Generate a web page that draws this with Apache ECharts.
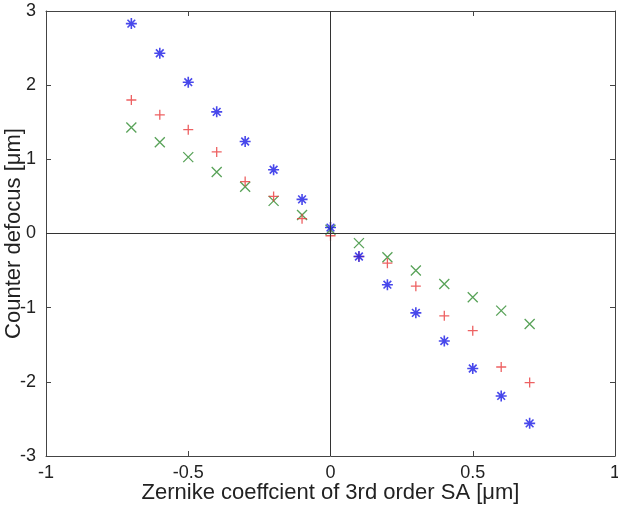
<!DOCTYPE html>
<html><head><meta charset="utf-8">
<script src="https://cdn.jsdelivr.net/npm/echarts@6/dist/echarts.min.js"></script>
<style>html,body{margin:0;padding:0;background:#fff}#c{width:618px;height:506px}</style>
</head><body><div id="c"></div>
<script>
const xValues = [-0.7,-0.6,-0.5,-0.4,-0.3,-0.2,-0.1,0,0.1,0.2,0.3,0.4,0.5,0.6,0.7];
const blueStar = [2.83,2.43,2.04,1.64,1.24,0.86,0.46,0.08,-0.31,-0.69,-1.07,-1.45,-1.82,-2.19,-2.56];
const redPlus  = [1.80,1.60,1.40,1.10,0.70,0.50,0.20,-0.03,-0.31,-0.40,-0.71,-1.11,-1.31,-1.80,-2.01];
const greenX   = [1.43,1.23,1.03,0.83,0.63,0.44,0.25,0.05,-0.13,-0.32,-0.50,-0.68,-0.86,-1.04,-1.22];
const xTicks = [-1,-0.5,0,0.5,1];
const yTicks = [-3,-2,-1,0,1,2,3];

const font = 'Liberation Sans, Arial, sans-serif';
const axisColor = '#444';
const textColor = '#222';
const pair = arr => xValues.map((x,i)=>[x,arr[i]]);

const PLUS = 'path://M5 0 L5 10 M0 5 L10 5';
const CROSS = 'path://M0 0 L10 10 M0 10 L10 0';
const STAR = 'path://M5 0 L5 10 M0 5 L10 5 M1.5 1.5 L8.5 8.5 M1.5 8.5 L8.5 1.5';

function mk(name, arr, sym, color, size, w){
  return {type:'scatter', name, data:pair(arr), symbol:sym, symbolSize:size,
    itemStyle:{color:'rgba(0,0,0,0)', borderColor:color, borderWidth:w},
    emphasis:{disabled:true}, z:3};
}

const chart = echarts.init(document.getElementById('c'), null, {renderer:'canvas'});
chart.setOption({
  animation:false,
  backgroundColor:'#fff',
  grid:{left:46, right:3, top:11, bottom:50, show:false, containLabel:false, outerBoundsMode:'none'},
  xAxis:[{
    type:'value', min:-1, max:1, interval:0.5, position:'bottom',
    name:'Zernike coeffcient of 3rd order SA [μm]', nameLocation:'middle', nameGap:26,
    nameMoveOverlap:false,
    nameTextStyle:{fontFamily:font, fontSize:22, color:textColor},
    axisLine:{onZero:false, lineStyle:{color:axisColor, width:1}},
    axisTick:{inside:true, length:5, lineStyle:{color:axisColor}},
    axisLabel:{fontFamily:font, fontSize:18, color:textColor, margin:8, hideOverlap:false,
      formatter:v=>xTicks.includes(v)?String(v):''},
    splitLine:{show:false}
  },{
    type:'value', min:-1, max:1, interval:0.5, position:'top',
    axisLine:{onZero:false, lineStyle:{color:axisColor, width:1}},
    axisTick:{inside:true, length:5, lineStyle:{color:axisColor}},
    axisLabel:{show:false}, splitLine:{show:false}
  }],
  yAxis:[{
    type:'value', min:-3, max:3, interval:1, position:'left',
    name:'Counter defocus [μm]', nameLocation:'middle', nameGap:21, nameRotate:90,
    nameMoveOverlap:false,
    nameTextStyle:{fontFamily:font, fontSize:22, color:textColor},
    axisLine:{onZero:false, lineStyle:{color:axisColor, width:1}},
    axisTick:{inside:true, length:5, lineStyle:{color:axisColor}},
    axisLabel:{fontFamily:font, fontSize:18, color:textColor, margin:10, hideOverlap:false,
      formatter:v=>yTicks.includes(v)?String(v):''},
    splitLine:{show:false}
  },{
    type:'value', min:-3, max:3, interval:1, position:'right',
    axisLine:{onZero:false, lineStyle:{color:axisColor, width:1}},
    axisTick:{inside:true, length:5, lineStyle:{color:axisColor}},
    axisLabel:{show:false}, splitLine:{show:false}
  }],
  series:[
    Object.assign(mk('green', greenX, CROSS, '#2e8b2e', 10, 1.3), {
      markLine:{silent:true, symbol:'none', animation:false, label:{show:false},
        lineStyle:{color:'#333', width:1, type:'solid'},
        data:[{xAxis:0},{yAxis:0}]}
    }),
    mk('red', redPlus, PLUS, '#e8393b', 10, 1.3),
    mk('blue', blueStar, STAR, '#1a1ae6', 11, 1.6)
  ]
});
</script></body></html>
